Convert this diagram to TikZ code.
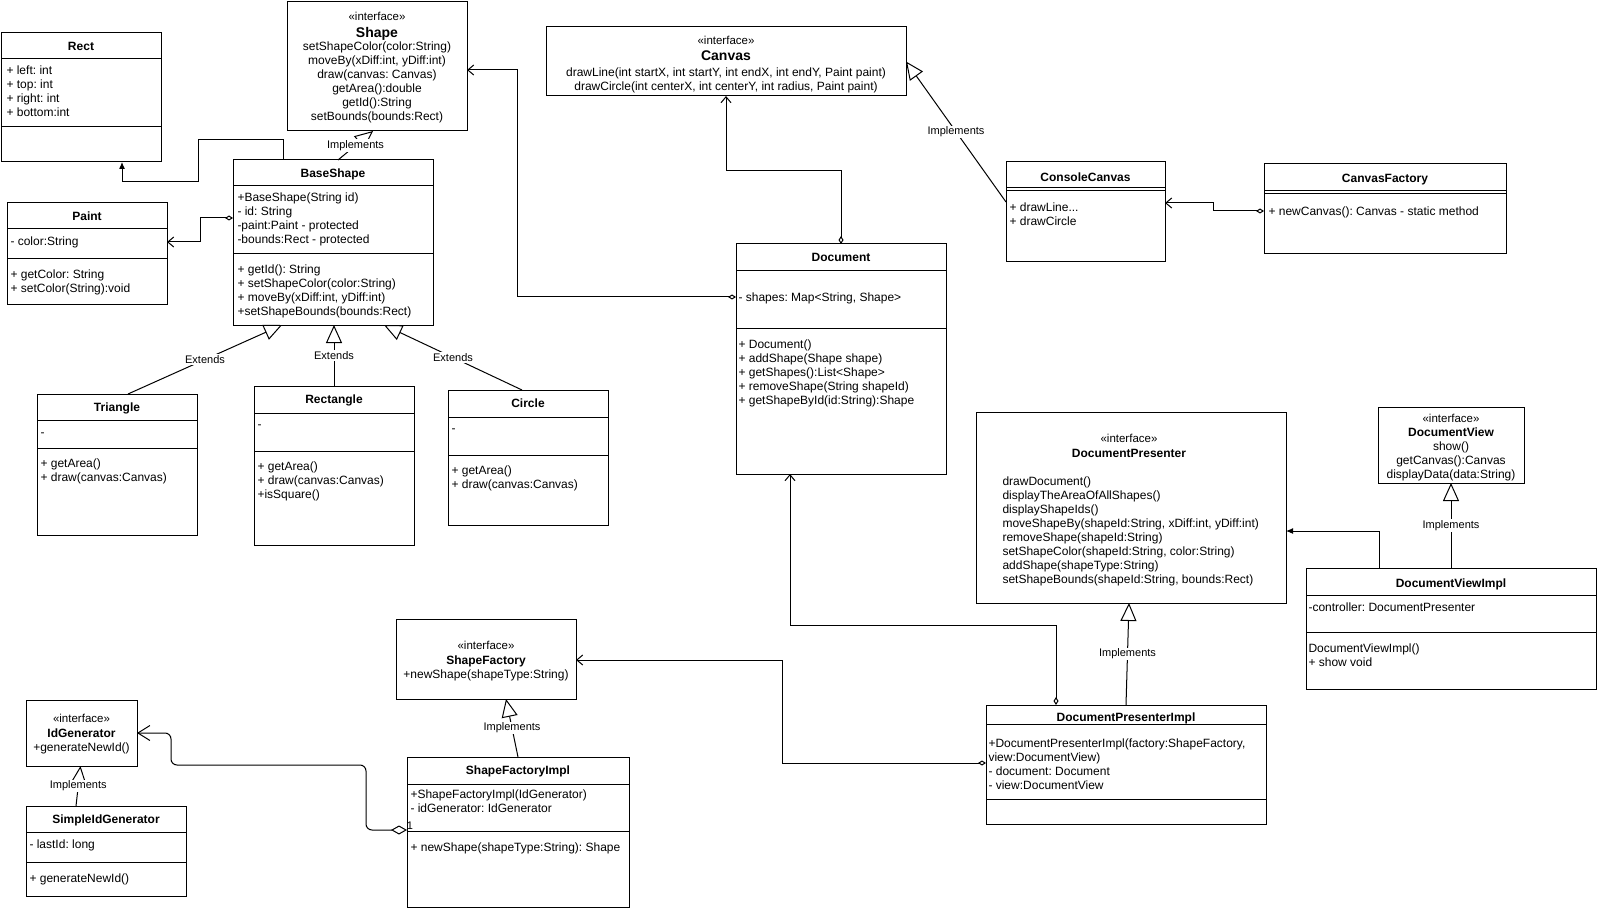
\documentclass[tikz,border=0pt]{standalone}
\usepackage{fontspec}
\setmainfont{Liberation Sans}
\usepackage{tikz}
\usetikzlibrary{positioning, arrows.meta, calc}
\frenchspacing

\newcommand{\umlfont}{\fontsize{12}{14}\selectfont}
\newcommand{\stereofont}{\fontsize{11.5}{14}\selectfont}
\newcommand{\bigfont}{\fontsize{14}{16}\selectfont}
\newcommand{\lblfont}{\fontsize{11}{13}\selectfont}
\newcommand{\compsep}[2]{\draw ([yshift=-#2pt]#1.north west) -- ([yshift=-#2pt]#1.north east);}

\tikzstyle{classbox}=[%
      rectangle, draw=black, fill=none, anchor=north west, outer sep=0pt, inner sep=0pt
]
\tikzstyle{members}=[%
      anchor=north west, inner sep=0pt, align=left, font=\umlfont, execute at begin node=\strut
]
\tikzstyle{opslist}=[%
      anchor=north, inner sep=0pt, align=center, font=\umlfont, execute at begin node=\strut
]
\tikzstyle{ctitle}=[anchor=base, inner sep=0pt, font=\umlfont\bfseries]
\tikzstyle{cline}=[anchor=base, inner sep=0pt, font=\umlfont]
\tikzstyle{stereo}=[anchor=base, inner sep=0pt, font=\stereofont]
\tikzstyle{bigtitle}=[anchor=base, inner sep=0pt, font=\bigfont\bfseries]
\tikzstyle{lbl}=[fill=white, inner sep=1pt, font=\lblfont]
\tikzstyle{aggregation}=[{Diamond[open,length=8pt,width=5pt]}-{Straight Barb[length=6pt,width=10pt]}]
\tikzstyle{sharedref}=[rounded corners=6pt, {Diamond[open,length=16pt,width=9pt]}-{Straight Barb[length=12pt,width=15pt]}]
\tikzstyle{realize}=[-{Triangle[open,length=18pt,width=16pt]}]
\tikzstyle{dependency}=[-{Latex[length=7pt,width=6pt]}]

\begin{document}
\begin{tikzpicture}[x=1pt, y=-1pt, line width=1pt]
    \useasboundingbox (0,0) rectangle (1598,909);

    % shapes
    \node[classbox, minimum width=160pt, minimum height=129pt] (Rect) at (1,33) {};
    \compsep{Rect}{26} \compsep{Rect}{94}
    \node[ctitle]  (rect-title) at (81,50.5) {Rect};
    \node[members] (rect-attrs) at (6,65.5) {+ left: int\\+ top: int\\+ right: int\\+ bottom:int};

    \node[classbox, minimum width=180pt, minimum height=129pt] (Shape) at (287,2) {};
    \node[stereo]   (shape-stereo) at (377,20.8) {«interface»};
    \node[bigtitle] (shape-title)  at (377,37.3) {Shape};
    \node[opslist]  (shape-ops)    at (377,41.5) {setShapeColor(color:String)\\moveBy(xDiff:int, yDiff:int)\\draw(canvas: Canvas)\\getArea():double\\getId():String\\setBounds(bounds:Rect)};

    \node[classbox, minimum width=200pt, minimum height=165pt] (BaseShape) at (233,160) {};
    \compsep{BaseShape}{26} \compsep{BaseShape}{94}
    \node[ctitle]  (baseshape-title) at (333,177.5) {BaseShape};
    \node[members] (baseshape-attrs) at (237,192.5) {+BaseShape(String id)\\- id: String\\-paint:Paint - protected\\-bounds:Rect - protected};
    \node[members] (baseshape-ops)   at (237,264) {+ getId(): String\\+ setShapeColor(color:String)\\+ moveBy(xDiff:int, yDiff:int)\\+setShapeBounds(bounds:Rect)};

    \node[classbox, minimum width=160pt, minimum height=102pt] (Paint) at (7,203) {};
    \compsep{Paint}{26} \compsep{Paint}{56}
    \node[ctitle]  (paint-title) at (87,220.5) {Paint};
    \node[members] (paint-attrs) at (10,235.5) {- color:String};
    \node[members] (paint-ops)   at (10,269) {+ getColor: String\\+ setColor(String):void};

    \node[classbox, minimum width=160pt, minimum height=141pt] (Triangle) at (37,394) {};
    \compsep{Triangle}{26} \compsep{Triangle}{54}
    \node[ctitle]  (triangle-title) at (117,411.5) {Triangle};
    \node[members] (triangle-attrs) at (40,426.5) {-};
    \node[members] (triangle-ops)   at (40,458) {+ getArea()\\+ draw(canvas:Canvas)};

    \node[classbox, minimum width=160pt, minimum height=159pt] (Rectangle) at (254,386) {};
    \compsep{Rectangle}{27} \compsep{Rectangle}{65}
    \node[ctitle]  (rectangle-title) at (334,403.5) {Rectangle};
    \node[members] (rectangle-attrs) at (257,418.5) {-};
    \node[members] (rectangle-ops)   at (257,461) {+ getArea()\\+ draw(canvas:Canvas)\\+isSquare()};

    \node[classbox, minimum width=160pt, minimum height=135pt] (Circle) at (448,390) {};
    \compsep{Circle}{27} \compsep{Circle}{65}
    \node[ctitle]  (circle-title) at (528,407.5) {Circle};
    \node[members] (circle-attrs) at (451,422.5) {-};
    \node[members] (circle-ops)   at (451,465) {+ getArea()\\+ draw(canvas:Canvas)};

    % canvas
    \node[classbox, minimum width=360pt, minimum height=69pt] (Canvas) at (546,27) {};
    \node[stereo]   (canvas-stereo) at (726,44.4) {«interface»};
    \node[bigtitle] (canvas-title)  at (726,60.7) {Canvas};
    \node[opslist]  (canvas-ops)    at (726,67) {drawLine(int startX, int startY, int endX, int endY, Paint paint)\\drawCircle(int centerX, int centerY, int radius, Paint paint)};

    \node[classbox, minimum width=159pt, minimum height=100pt] (ConsoleCanvas) at (1006,162) {};
    \compsep{ConsoleCanvas}{25.5} \compsep{ConsoleCanvas}{29}
    \node[ctitle]  (consolecanvas-title) at (1085.5,182) {ConsoleCanvas};
    \node[members] (consolecanvas-ops)   at (1009,202.5) {+ drawLine...\\+ drawCircle};

    \node[classbox, minimum width=242pt, minimum height=90pt] (CanvasFactory) at (1264,164) {};
    \compsep{CanvasFactory}{27} \compsep{CanvasFactory}{29.7}
    \node[ctitle]  (canvasfactory-title) at (1385,182.5) {CanvasFactory};
    \node[members] (canvasfactory-ops)   at (1268,205.5) {+ newCanvas(): Canvas - static method};

    % document
    \node[classbox, minimum width=210pt, minimum height=230pt] (Document) at (736,244) {};
    \compsep{Document}{26.7} \compsep{Document}{84.3}
    \node[ctitle]  (document-title) at (841,261.5) {Document};
    \node[members] (document-attrs) at (738,291.5) {- shapes: Map<String, Shape>};
    \node[members] (document-ops)   at (738,339) {+ Document()\\+ addShape(Shape shape)\\+ getShapes():List<Shape>\\+ removeShape(String shapeId)\\+ getShapeById(id:String):Shape};

    \node[classbox, minimum width=310pt, minimum height=191pt] (DocumentPresenter) at (976,412) {};
    \node[stereo]  (presenter-stereo) at (1129,442.4) {«interface»};
    \node[ctitle]  (presenter-title)  at (1129,457) {DocumentPresenter};
    \node[members] (presenter-ops)    at (1002,476.5) {drawDocument()\\displayTheAreaOfAllShapes()\\displayShapeIds()\\moveShapeBy(shapeId:String, xDiff:int, yDiff:int)\\removeShape(shapeId:String)\\setShapeColor(shapeId:String, color:String)\\addShape(shapeType:String)\\setShapeBounds(shapeId:String, bounds:Rect)};

    \node[classbox, minimum width=280pt, minimum height=119pt] (DocumentPresenterImpl) at (986,705) {};
    \compsep{DocumentPresenterImpl}{19.3} \compsep{DocumentPresenterImpl}{94}
    \node[ctitle]  (presenterimpl-title) at (1126,721) {DocumentPresenterImpl};
    \node[members] (presenterimpl-attrs) at (988,738.5) {+DocumentPresenterImpl(factory:ShapeFactory,\\view:DocumentView)\\- document: Document\\- view:DocumentView};

    \node[classbox, minimum width=146pt, minimum height=76pt] (DocumentView) at (1378,407) {};
    \node[stereo]  (view-stereo) at (1451,422.4) {«interface»};
    \node[ctitle]  (view-title)  at (1451,436) {DocumentView};
    \node[opslist] (view-ops)    at (1451,441) {show()\\getCanvas():Canvas\\displayData(data:String)};

    \node[classbox, minimum width=290pt, minimum height=121pt] (DocumentViewImpl) at (1306,568) {};
    \compsep{DocumentViewImpl}{27} \compsep{DocumentViewImpl}{64.7}
    \node[ctitle]  (viewimpl-title) at (1451,587) {DocumentViewImpl};
    \node[members] (viewimpl-attrs) at (1308,601) {-controller: DocumentPresenter};
    \node[members] (viewimpl-ops)   at (1308,643) {DocumentViewImpl()\\+ show void};

    % factories
    \node[classbox, minimum width=180pt, minimum height=80pt] (ShapeFactory) at (396,619) {};
    \node[stereo] (shapefactory-stereo) at (486,649.8) {«interface»};
    \node[ctitle] (shapefactory-title)  at (486,664.3) {ShapeFactory};
    \node[cline]  (shapefactory-ops)    at (486,678) {+newShape(shapeType:String)};

    \node[classbox, minimum width=222pt, minimum height=150pt] (ShapeFactoryImpl) at (407,757) {};
    \compsep{ShapeFactoryImpl}{27} \compsep{ShapeFactoryImpl}{74}
    \node[ctitle]  (shapefactoryimpl-title) at (518,774) {ShapeFactoryImpl};
    \node[members] (shapefactoryimpl-attrs) at (410,789.5) {+ShapeFactoryImpl(IdGenerator)\\- idGenerator: IdGenerator};
    \node[members] (shapefactoryimpl-ops)   at (410,841.5) {+ newShape(shapeType:String): Shape};

    \node[classbox, minimum width=111pt, minimum height=66pt] (IdGenerator) at (26,700) {};
    \node[stereo] (idgen-stereo) at (81.5,722.8) {«interface»};
    \node[ctitle] (idgen-title)  at (81.5,737) {IdGenerator};
    \node[cline]  (idgen-ops)    at (81.5,751) {+generateNewId()};

    \node[classbox, minimum width=160pt, minimum height=90pt] (SimpleIdGenerator) at (26,806) {};
    \compsep{SimpleIdGenerator}{26} \compsep{SimpleIdGenerator}{56}
    \node[ctitle]  (simpleidgen-title) at (106,823.5) {SimpleIdGenerator};
    \node[members] (simpleidgen-attrs) at (29,838.5) {- lastId: long};
    \node[members] (simpleidgen-ops)   at (29,872) {+ generateNewId()};

    % connectors
    \draw[dependency] ([xshift=50pt]BaseShape.north west) |- (198,140) |- (122,182) -- ([xshift=121pt]Rect.south west);
    \draw[aggregation] ([yshift=-58pt]BaseShape.north west) -| (200,242) -- ([yshift=-39pt]Paint.north east);
    \draw[realize] ([xshift=5pt]BaseShape.north) -- node[lbl] {Implements} ([xshift=-4pt]Shape.south);
    \draw[realize] ([xshift=11pt]Triangle.north) -- node[lbl] {Extends} ([xshift=-51pt]BaseShape.south);
    \draw[realize] (Rectangle.north) -- node[lbl] {Extends} (Rectangle.north |- BaseShape.south);
    \draw[realize] ([xshift=-6pt]Circle.north) -- node[lbl] {Extends} ([xshift=51pt]BaseShape.south);

    \draw[aggregation] ([yshift=-53pt]Document.north west) -| (517,70) -- ([yshift=-68pt]Shape.north east);
    \draw[aggregation] (Document.north) -- ++(0,-73) -| (Canvas.south);
    \draw[realize] ([yshift=10pt]ConsoleCanvas.west) -- node[lbl] {Implements} (Canvas.east);
    \draw[aggregation] ([yshift=-47pt]CanvasFactory.north west) -| (1213,203) -- ([yshift=-41pt]ConsoleCanvas.north east);

    \draw[aggregation] ([xshift=70pt]DocumentPresenterImpl.north west) |- (790,625) -- ([xshift=54pt]Document.south west);
    \draw[realize] (DocumentPresenterImpl.north) -- node[lbl] {Implements} ([xshift=-2pt]DocumentPresenter.south);
    \draw[aggregation] ([yshift=-58pt]DocumentPresenterImpl.north west) -| (782,660) -- ([yshift=-41pt]ShapeFactory.north east);
    \draw[realize] (DocumentViewImpl.north) -- node[lbl] {Implements} (DocumentView.south);
    \draw[dependency] ([xshift=73pt]DocumentViewImpl.north west) |- ([yshift=-119pt]DocumentPresenter.north east);

    \draw[realize] (ShapeFactoryImpl.north) -- node[lbl] {Implements} ([xshift=20pt]ShapeFactory.south);
    \draw[realize] ([xshift=-30pt]SimpleIdGenerator.north) -- node[lbl] {Implements} ([xshift=-1pt]IdGenerator.south);
    \draw[sharedref] ([yshift=2pt]ShapeFactoryImpl.west) -| (366,765) -| (171,733) -- (IdGenerator.east);
    \node[inner sep=0pt, font=\lblfont] (idgen-mult) at (410,826) {1};
\end{tikzpicture}
\end{document}
